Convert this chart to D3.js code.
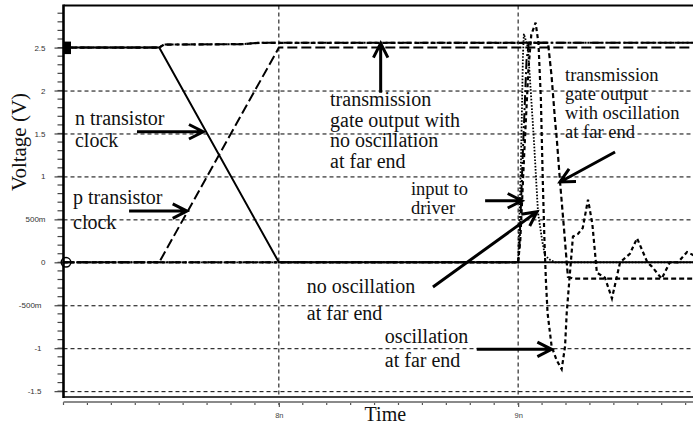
<!DOCTYPE html>
<html>
<head>
<meta charset="utf-8">
<script src="https://cdn.jsdelivr.net/npm/d3@7"></script>
<style>
  html, body { margin: 0; padding: 0; background: #fff; overflow: hidden; }
  svg { display: block; }
</style>
</head>
<body>
<svg id="chart" width="693" height="425"></svg>
<script>
// ---- axis ticks ----
const yTickValues = [2.5, 2, 1.5, 1, 0.5, 0, -0.5, -1, -1.5];
const yTickLabels = ["2.5", "2", "1.5", "1", "500m", "0", "-500m", "-1", "-1.5"];
const xTickValues = [8, 9];
const xTickLabels = ["8n", "9n"];

// ---- waveforms: [time (ns), voltage (V)] ----
const nClock = [[7.1, 2.5], [7.5, 2.5], [8.0, 0], [9.75, 0]];
const pClock = [[7.1, 0], [7.5, 0], [8.0, 2.5], [9.75, 2.5]];
const tgOutNoOsc = [[7.1, 2.5], [7.5, 2.5], [7.52, 2.535], [7.85, 2.54], [7.92, 2.556], [9.75, 2.556]];
const tgOutOsc = [[7.1, 2.5], [7.5, 2.5], [7.52, 2.535], [7.85, 2.54], [7.92, 2.556], [9.125, 2.556],
  [9.14, 2.16], [9.154, 1.66], [9.162, 1.42], [9.175, 0.94], [9.192, 0.38], [9.208, -0.17],
  [9.23, -0.19], [9.75, -0.19]];
const driverInput = [[7.1, 0], [9.0, 0], [9.005, 0.15], [9.02, 1.3], [9.035, 2.35], [9.045, 2.556], [9.75, 2.556]];
const farEndNoOsc = [[7.1, 0], [9.0, 0], [9.012, 1.2], [9.02, 2.4], [9.024, 2.66], [9.041, 2.5],
  [9.066, 1.42], [9.083, 0.58], [9.1, 0.26], [9.112, 0.08], [9.133, 0.03], [9.154, 0], [9.75, 0]];
const farEndOsc = [[7.1, 0], [9.0, 0], [9.009, 0.26], [9.026, 1.3], [9.043, 2.25], [9.055, 2.65],
  [9.073, 2.79], [9.085, 2.55], [9.095, 1.9], [9.103, 0.95], [9.11, 0.25], [9.116, -0.21],
  [9.123, -0.59], [9.14, -0.98], [9.161, -1.14], [9.182, -1.245], [9.196, -0.98], [9.203, -0.59],
  [9.214, -0.21], [9.229, 0.3], [9.25, 0.33], [9.27, 0.4], [9.292, 0.73], [9.31, 0.45],
  [9.329, -0.12], [9.363, -0.18], [9.392, -0.42], [9.426, 0], [9.467, 0.1], [9.497, 0.28],
  [9.54, 0], [9.559, -0.05], [9.6, -0.19], [9.634, 0], [9.668, 0], [9.706, 0.12], [9.75, 0.06]];

// ---- annotations (positions in time / voltage) ----
const notes = [
  { lines: ["n transistor", "clock"], at: [7.148, 1.598], step: 0.256, size: 20, tail: [7.407, 1.52], tip: [7.684, 1.52] },
  { lines: ["p transistor", "clock"], at: [7.14, 0.679], step: 0.29, size: 20, tail: [7.374, 0.597], tip: [7.616, 0.597] },
  { lines: ["transmission", "gate output with", "no oscillation", "at far end"], at: [8.214, 1.818], step: 0.24, size: 20,
    tail: [8.4255, 1.974], tip: [8.4255, 2.549] },
  { lines: ["transmission", "gate output", "with oscillation", "at far end"], at: [9.196, 2.11], step: 0.222, size: 18.5,
    tail: [9.405, 1.284], tip: [9.175, 0.935] },
  { lines: ["input to", "driver"], at: [8.552, 0.783], step: 0.215, size: 18.5, tail: [8.862, 0.717], tip: [9.016, 0.717] },
  { lines: ["no oscillation", "at far end"], at: [8.117, -0.357], step: 0.315, size: 20, tail: [8.644, -0.288], tip: [9.079, 0.589] },
  { lines: ["oscillation", "at far end"], at: [8.443, -0.939], step: 0.28, size: 20, tail: [8.827, -1.013], tip: [9.14, -1.013] }
];

const svg = d3.select("#chart");
const plotLeft = 63.5, plotRight = 697.6, plotTop = 5.5, plotBottom = 397;

const x = d3.scaleLinear().domain([7.1, 9.75]).range([plotLeft, plotRight]);
const y = d3.scaleLinear().domain([-1.568, 2.99]).range([plotBottom, plotTop]);

const serif = "'Liberation Serif', 'Times New Roman', serif";
const sans = "'Liberation Sans', Arial, sans-serif";

svg.append("defs").append("clipPath").attr("id", "plot-clip")
  .append("rect").attr("x", plotLeft).attr("y", plotTop)
  .attr("width", plotRight - plotLeft).attr("height", plotBottom - plotTop);

// grid
const grid = svg.append("g").attr("stroke", "#000").attr("stroke-width", 1).attr("stroke-dasharray", "4 3");
grid.selectAll("line.h").data(yTickValues.filter(v => v !== 0 && v !== 2.5)).join("line")
  .attr("x1", plotLeft).attr("x2", plotRight).attr("y1", d => y(d) + 0.5).attr("y2", d => y(d) + 0.5);
grid.selectAll("line.v").data(xTickValues).join("line")
  .attr("x1", d => x(d)).attr("x2", d => x(d)).attr("y1", plotTop).attr("y2", plotBottom);

// frame
svg.append("line").attr("x1", plotLeft).attr("x2", plotRight).attr("y1", plotTop).attr("y2", plotTop)
  .attr("stroke", "#000").attr("stroke-width", 2);
svg.append("line").attr("x1", plotLeft).attr("x2", plotRight).attr("y1", plotBottom).attr("y2", plotBottom)
  .attr("stroke", "#000").attr("stroke-width", 1.6);

// left axis: major ticks with labels, then minor ticks every 0.1 V
const yAxis = d3.axisLeft(y).tickValues(yTickValues).tickSize(9).tickPadding(9)
  .tickFormat((d, i) => yTickLabels[i]);
const gy = svg.append("g").attr("transform", `translate(${plotLeft},0)`).call(yAxis);
gy.select(".domain").remove();
gy.selectAll(".tick line").attr("stroke", "#444").attr("stroke-width", 1.2);
gy.selectAll(".tick text").attr("font-family", sans).attr("font-size", 8).attr("fill", "#333")
  .attr("dx", d => d < 0 ? -4 : 0);
const minorY = d3.range(-15, 30).map(k => k / 10);
svg.append("g").selectAll("line").data(minorY).join("line")
  .attr("x1", plotLeft - 6).attr("x2", plotLeft).attr("y1", d => y(d)).attr("y2", d => y(d))
  .attr("stroke", "#444").attr("stroke-width", 1.2);
svg.append("line").attr("x1", plotLeft).attr("x2", plotLeft).attr("y1", plotTop - 1).attr("y2", plotBottom + 1)
  .attr("stroke", "#000").attr("stroke-width", 2.6);

// bottom time axis, slightly below the frame
const axisY = 402;
const xAxis = d3.axisBottom(x).tickValues(xTickValues).tickSize(5).tickPadding(6)
  .tickFormat((d, i) => xTickLabels[i]);
const gx = svg.append("g").attr("transform", `translate(0,${axisY})`).call(xAxis);
gx.select(".domain").remove();
gx.selectAll(".tick line").attr("stroke", "#555").attr("stroke-width", 1.2);
gx.selectAll(".tick text").attr("font-family", sans).attr("font-size", 7.5).attr("fill", "#444");
const minorX = d3.range(71, 98).map(k => k / 10);
svg.append("g").selectAll("line").data(minorX).join("line")
  .attr("x1", d => x(d)).attr("x2", d => x(d)).attr("y1", axisY).attr("y2", axisY + 3)
  .attr("stroke", "#555").attr("stroke-width", 1.2);
svg.append("line").attr("x1", plotLeft).attr("x2", plotRight).attr("y1", axisY).attr("y2", axisY)
  .attr("stroke", "#8a8a8a").attr("stroke-width", 1.8);

// axis titles
svg.append("text").attr("x", x(8.445)).attr("y", 420.5).attr("text-anchor", "middle")
  .attr("font-family", serif).attr("font-size", 20).attr("fill", "#111").text("Time");
svg.append("text").attr("transform", `translate(26,142) rotate(-90)`).attr("text-anchor", "middle")
  .attr("font-family", serif).attr("font-size", 21).attr("fill", "#111").text("Voltage (V)");

// waveforms
const line = d3.line().x(d => x(d[0])).y(d => y(d[1]));
const traces = svg.append("g").attr("clip-path", "url(#plot-clip)").attr("fill", "none").attr("stroke", "#000");
const styles = [
  { data: pClock, w: 2, dash: "10 4" },
  { data: tgOutNoOsc, w: 2, dash: "9 3 2 3" },
  { data: farEndNoOsc, w: 1.8, dash: "1.6 1.6" },
  { data: farEndOsc, w: 2.2, dash: "4 3" },
  { data: tgOutOsc, w: 2.2, dash: "5 3" },
  { data: driverInput, w: 2, dash: "10 3 2 3" },
  { data: nClock, w: 2, dash: null }
];
styles.forEach(s => {
  traces.append("path").attr("d", line(s.data)).attr("stroke-width", s.w)
    .attr("stroke-dasharray", s.dash);
});

// cursor markers at the left edge
svg.append("rect").attr("x", plotLeft).attr("y", y(2.5) - 6).attr("width", 7.5).attr("height", 12.5).attr("fill", "#000");
svg.append("circle").attr("cx", plotLeft + 2.5).attr("cy", y(0)).attr("r", 4.8)
  .attr("fill", "none").attr("stroke", "#000").attr("stroke-width", 1.5);

// annotations with arrows
const ann = svg.append("g");
notes.forEach(n => {
  n.lines.forEach((s, i) => {
    ann.append("text").attr("font-family", serif).attr("font-size", n.size).attr("fill", "#111")
      .attr("x", x(n.at[0])).attr("y", y(n.at[1] - i * n.step)).text(s);
  });
  const x0 = x(n.tail[0]), y0 = y(n.tail[1]), x1 = x(n.tip[0]), y1 = y(n.tip[1]);
  const a = Math.atan2(y1 - y0, x1 - x0), len = 16, spread = 0.47;
  const b1 = [x1 - len * Math.cos(a - spread), y1 - len * Math.sin(a - spread)];
  const b2 = [x1 - len * Math.cos(a + spread), y1 - len * Math.sin(a + spread)];
  ann.append("path")
    .attr("d", `M${x0},${y0}L${x1},${y1}M${b1[0]},${b1[1]}L${x1},${y1}L${b2[0]},${b2[1]}`)
    .attr("fill", "none").attr("stroke", "#000").attr("stroke-width", 3);
});
</script>
</body>
</html>
